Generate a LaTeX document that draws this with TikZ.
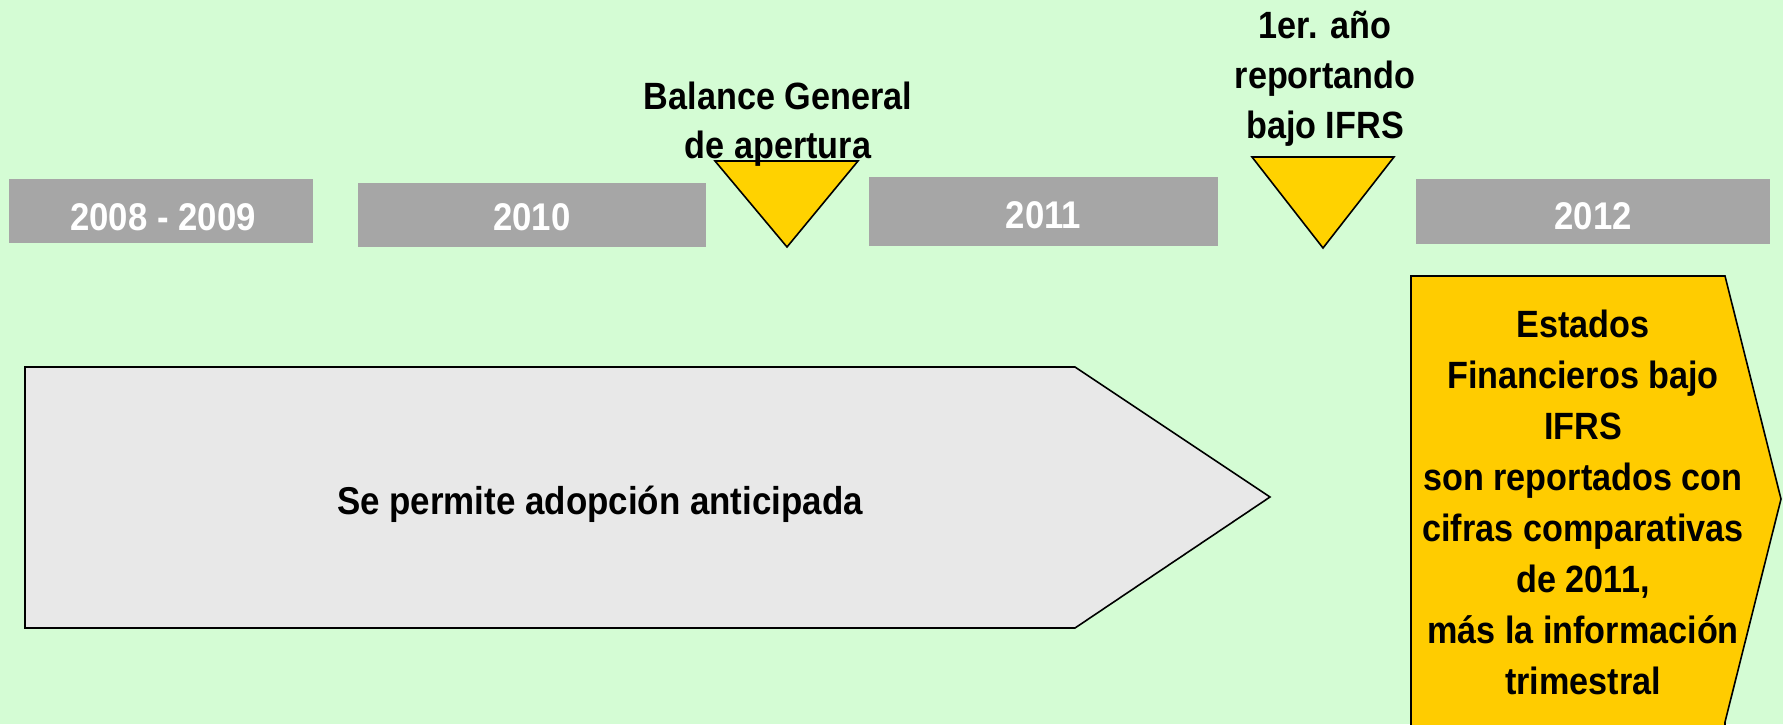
\documentclass[tikz,border=0pt]{standalone}
\usepackage{fontspec}
\setmainfont{Liberation Sans}[FakeStretch=0.9]
\definecolor{bg}{RGB}{212,252,212}
\definecolor{boxgray}{RGB}{166,166,166}
\definecolor{tri}{RGB}{255,210,0}
\definecolor{pent}{RGB}{255,204,0}
\definecolor{arrowgray}{RGB}{232,232,232}
\tikzset{
  yearbox/.style={fill=boxgray, draw=none, inner sep=0pt},
  yeartext/.style={text=white, inner sep=0pt, anchor=base, font=\fontsize{19.3}{24}\selectfont\bfseries},
  marker/.style={fill=tri, draw=black, line width=0.8pt, line join=miter},
  toplabel/.style={align=center, inner sep=0pt, anchor=north, text=black},
  bigtext/.style={inner sep=0pt, anchor=base, font=\fontsize{19.4}{24}\selectfont\bfseries},
  shapeline/.style={draw=black, line width=0.8pt}
}
\begin{document}
\begin{tikzpicture}[x=0.5pt,y=-0.5pt]
\path[use as bounding box, fill=bg] (0,0) rectangle (1783,724);
\clip (0,0) rectangle (1783,724);

% year boxes
\node[yearbox, minimum width=152pt, minimum height=32pt] (b1) at (161,211) {};
\node[yearbox, minimum width=174pt, minimum height=32pt] (b2) at (532,215) {};
\node[yearbox, minimum width=174.5pt, minimum height=34.5pt] (b3) at (1043.5,211.5) {};
\node[yearbox, minimum width=177pt, minimum height=32.5pt] (b4) at (1593,211.5) {};

\node[yeartext] (t1) at (163,230) {2008 - 2009};
\node[yeartext] (t2) at (532,230) {2010};
\node[yeartext] (t3) at (1043.5,228) {2011};
\node[yeartext] (t4) at (1593,229) {2012};

% triangles
\draw[marker] (715,161) -- (858,161) -- (787,247) -- cycle;
\draw[marker] (1252,157) -- (1394,157) -- (1323,248) -- cycle;

% big arrow
\draw[shapeline, fill=arrowgray] (25,367) -- (1075,367) -- (1270,497) -- (1075,628) -- (25,628) -- cycle;
\node[bigtext] (adop) at (600,514) {Se permite adopción anticipada};

% right pentagon
\draw[shapeline, fill=pent] (1411,276) -- (1725,276) -- (1781,499) -- (1725,722) -- (1725,732) -- (1411,732) -- cycle;
\node[toplabel, font=\fontsize{19}{25.5}\selectfont\bfseries] (estados) at (1583,310)
  {Estados\\Financieros bajo\\IFRS\\son reportados con\\cifras comparativas\\de 2011,\\más la información\\trimestral};

% top labels
\node[toplabel, font=\fontsize{19}{24.3}\selectfont\bfseries] (balance) at (778,82) {Balance General\\de apertura};
\node[toplabel, font=\fontsize{19}{25}\selectfont\bfseries] (primer) at (1325,11) {1er. año\\reportando\\bajo IFRS};
\end{tikzpicture}
\end{document}
